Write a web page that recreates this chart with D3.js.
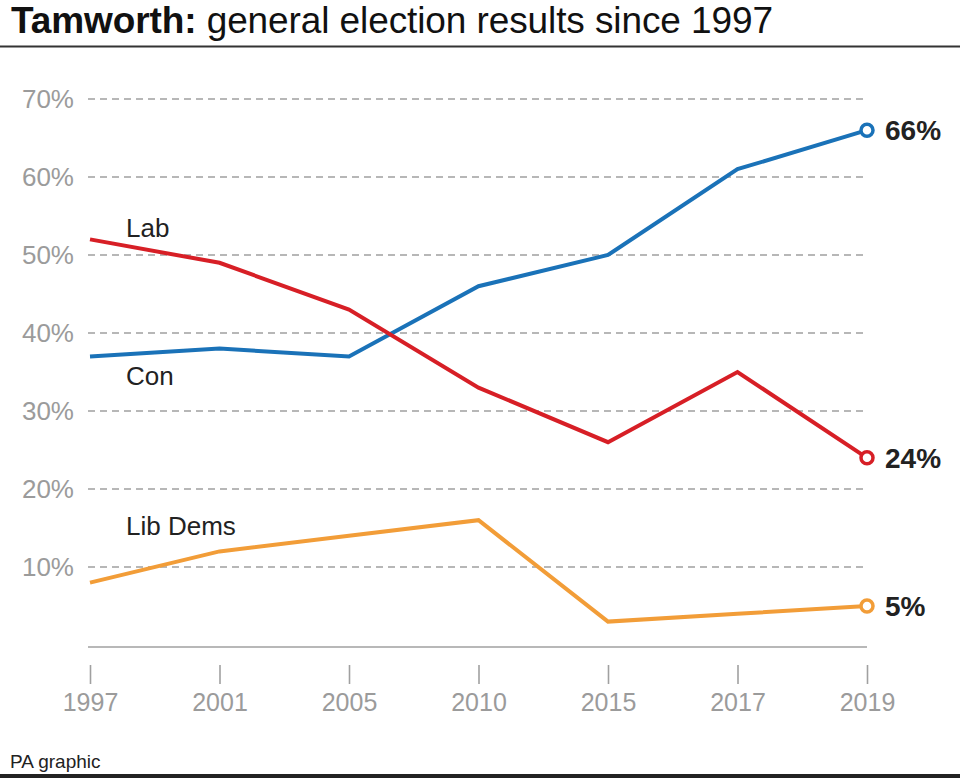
<!DOCTYPE html>
<html>
<head>
<meta charset="utf-8">
<script src="https://cdn.jsdelivr.net/npm/d3@7"></script>
<style>
  html, body { margin: 0; padding: 0; background: #fff; }
  svg { display: block; font-family: "Liberation Sans", Arial, Helvetica, sans-serif; }
</style>
</head>
<body>
<div id="chart"></div>
<script>
// Vote share (%) by general election
const years = ["1997", "2001", "2005", "2010", "2015", "2017", "2019"];
const conValues = [37, 38, 37, 46, 50, 61, 66];
const labValues = [52, 49, 43, 33, 26, 35, 24];
const ldValues = [8, 12, 14, 16, 3, 4, 5];
const yTicks = [10, 20, 30, 40, 50, 60, 70];

const series = [
    { name: "Lib Dems", values: ldValues, color: "#f29d38", labelY: 535 },
    { name: "Con", values: conValues, color: "#1a72b8", labelY: 385 },
    { name: "Lab", values: labValues, color: "#d71f26", labelY: 237 }
];

const width = 960, height = 781;

const svg = d3.select("#chart").append("svg")
    .attr("width", width)
    .attr("height", height);

const x = d3.scalePoint().domain(years).range([90, 867]);
const y = d3.scaleLinear().domain([0, 70]).range([645, 99]);

// Title
const title = svg.append("text")
    .attr("x", 11)
    .attr("y", 33)
    .attr("font-size", 37)
    .attr("fill", "#111")
    .style("letter-spacing", "-0.1px");
title.append("tspan").attr("font-weight", "bold").text("Tamworth:");
title.append("tspan").text(" general election results since 1997");

svg.append("line")
    .attr("x1", 0).attr("x2", width)
    .attr("y1", 46.5).attr("y2", 46.5)
    .attr("stroke", "#333")
    .attr("stroke-width", 2);

// Gridlines + y labels
const grid = svg.append("g");
grid.selectAll("line")
    .data(yTicks)
    .enter()
    .append("line")
    .attr("x1", 88).attr("x2", 867)
    .attr("y1", d => y(d)).attr("y2", d => y(d))
    .attr("stroke", "#a0a0a0")
    .attr("stroke-width", 1.6)
    .attr("stroke-dasharray", "7,5");

grid.selectAll("text")
    .data(yTicks)
    .enter()
    .append("text")
    .attr("x", 74)
    .attr("y", d => y(d))
    .attr("dy", "0.36em")
    .attr("text-anchor", "end")
    .attr("font-size", 26)
    .attr("fill", "#9b9b9b")
    .text(d => d + "%");

// X axis
svg.append("line")
    .attr("x1", 88).attr("x2", 867)
    .attr("y1", y(0) + 2).attr("y2", y(0) + 2)
    .attr("stroke", "#a0a0a0")
    .attr("stroke-width", 1.6);

const xAxis = svg.append("g")
    .attr("transform", "translate(0,665)")
    .call(d3.axisBottom(x).tickSize(19).tickPadding(9).tickSizeOuter(0));
xAxis.select(".domain").remove();
xAxis.selectAll(".tick line")
    .attr("stroke", "#a0a0a0")
    .attr("stroke-width", 1.6);
xAxis.selectAll(".tick text")
    .attr("font-family", "Liberation Sans, Arial, sans-serif")
    .attr("font-size", 25)
    .attr("fill", "#9b9b9b");

// Lines
const line = d3.line()
    .x((d, i) => x(years[i]))
    .y(d => y(d));

const lines = svg.append("g");
series.forEach(s => {
    lines.append("path")
        .datum(s.values)
        .attr("d", line)
        .attr("fill", "none")
        .attr("stroke", s.color)
        .attr("stroke-width", 4)
        .attr("stroke-linejoin", "miter");

    const last = s.values[s.values.length - 1];
    lines.append("circle")
        .attr("cx", x(years[years.length - 1]))
        .attr("cy", y(last))
        .attr("r", 6)
        .attr("fill", "#fff")
        .attr("stroke", s.color)
        .attr("stroke-width", 3.5);

    lines.append("text")
        .attr("x", 885)
        .attr("y", y(last))
        .attr("dy", "0.36em")
        .attr("font-size", 28)
        .attr("font-weight", "bold")
        .attr("fill", "#222")
        .text(last + "%");

    // series name near the start of the line
    lines.append("text")
        .attr("x", 126)
        .attr("y", s.labelY)
        .attr("font-size", 26)
        .attr("fill", "#222")
        .text(s.name);
});

// Footer
svg.append("text")
    .attr("x", 10)
    .attr("y", 768)
    .attr("font-size", 19)
    .attr("fill", "#222")
    .text("PA graphic");

svg.append("rect")
    .attr("x", 0).attr("y", 774)
    .attr("width", width).attr("height", 4)
    .attr("fill", "#222");
</script>
</body>
</html>
